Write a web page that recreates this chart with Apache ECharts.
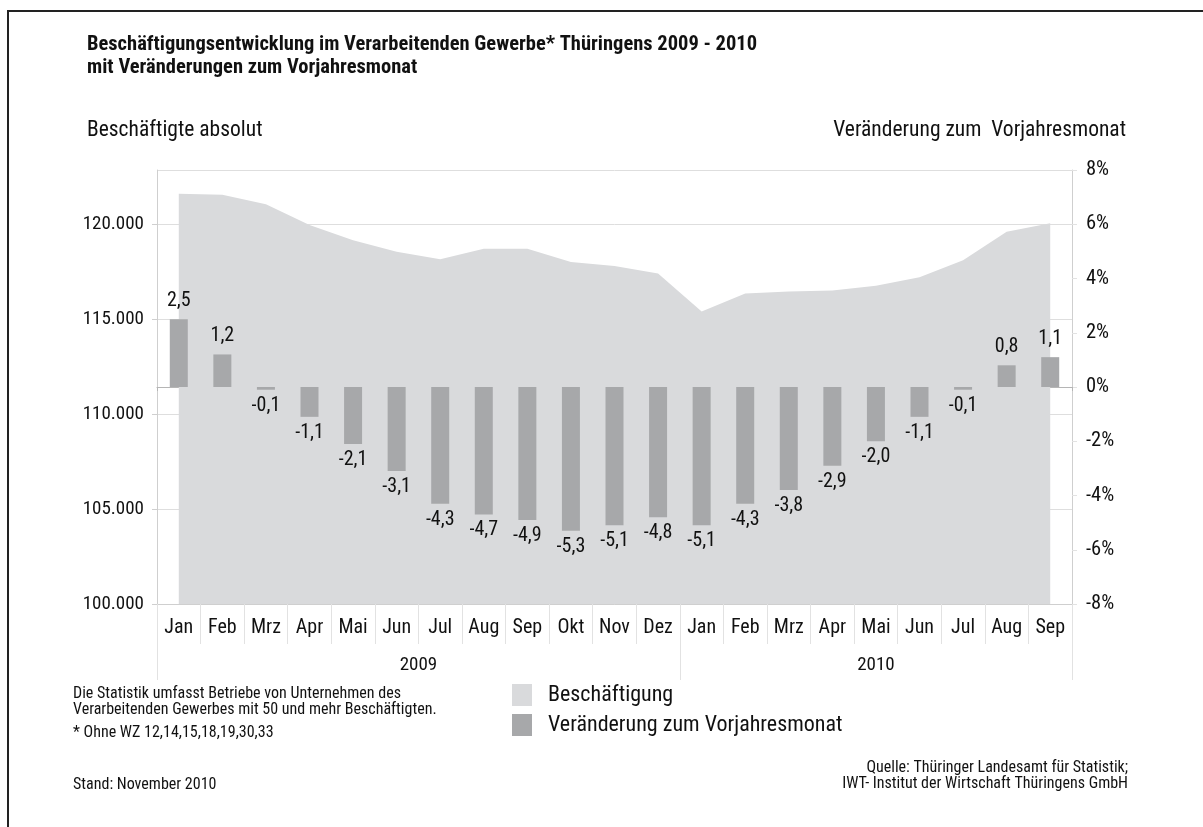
<!DOCTYPE html>
<html>
<head>
<meta charset="utf-8">
<script src="https://cdn.jsdelivr.net/npm/echarts@6/dist/echarts.min.js"></script>
<style>
  html, body { margin: 0; padding: 0; background: #fff; }
  #chart { width: 1203px; height: 827px; }
</style>
</head>
<body>
<div id="chart"></div>
<script>
(function () {
    'use strict';
    // Monate Jan 2009 - Sep 2010
    var months = ['Jan', 'Feb', 'Mrz', 'Apr', 'Mai', 'Jun', 'Jul', 'Aug', 'Sep', 'Okt', 'Nov', 'Dez',
                  'Jan', 'Feb', 'Mrz', 'Apr', 'Mai', 'Jun', 'Jul', 'Aug', 'Sep'];
    var years = ['2009', '2010'];
    // Beschäftigte absolut
    var beschaeftigte = [121600, 121550, 121050, 119950, 119150, 118550, 118150, 118700, 118700, 118000, 117800, 117400,
                         115400, 116350, 116450, 116500, 116750, 117200, 118100, 119600, 120050];
    // Veränderung zum Vorjahresmonat in %
    var veraenderung = [2.5, 1.2, -0.1, -1.1, -2.1, -3.1, -4.3, -4.7, -4.9, -5.3, -5.1, -4.8,
                        -5.1, -4.3, -3.8, -2.9, -2.0, -1.1, -0.1, 0.8, 1.1];

    var FONT = "'Roboto Condensed', 'Open Sans', sans-serif";
    var LIGHT = '#cfcfcf';
    var INK = '#111';

    function tausender(v) {
        return String(v).replace(/\B(?=(\d{3})+(?!\d))/g, '.');
    }
    function komma(v) {
        return v.toFixed(1).replace('.', ',');
    }
    function txt(size, extra) {
        var s = { fontFamily: FONT, fontSize: size, fontWeight: 'normal', color: INK };
        for (var k in extra) s[k] = extra[k];
        return s;
    }

    var barData = veraenderung.map(function (v) {
        return { value: v, label: { position: v < 0 ? 'bottom' : 'top', distance: v < 0 ? 6 : 8 } };
    });

    var chart = echarts.init(document.getElementById('chart'));
    var option = {
        backgroundColor: '#fff',
        animation: false,
        textStyle: { fontFamily: FONT },
        title: [
            {
                text: 'Beschäftigungsentwicklung im Verarbeitenden Gewerbe* Thüringens 2009 - 2010\nmit Veränderungen zum Vorjahresmonat',
                left: 82, top: 28,
                textStyle: txt(20.5, { fontWeight: 'bold', lineHeight: 23 })
            },
            { text: 'Beschäftigte absolut', left: 82, top: 115, textStyle: txt(21.5) },
            { text: 'Veränderung zum  Vorjahresmonat', right: 72, top: 115, textStyle: txt(21.5) },
            {
                text: 'Die Statistik umfasst Betriebe von Unternehmen des\nVerarbeitenden Gewerbes mit 50 und mehr Beschäftigten.',
                left: 68, top: 681, textStyle: txt(16, { lineHeight: 16 })
            },
            { text: '* Ohne WZ 12,14,15,18,19,30,33', left: 68, top: 720, textStyle: txt(16) },
            { text: 'Stand: November 2010', left: 68, top: 772, textStyle: txt(16) },
            { text: 'Quelle: Thüringer Landesamt für Statistik;', right: 70, top: 755, textStyle: txt(16) },
            { text: 'IWT- Institut der Wirtschaft Thüringens GmbH', right: 70, top: 771, textStyle: txt(16) }
        ],
        legend: {
            orient: 'vertical',
            left: 507, top: 679,
            itemWidth: 20, itemHeight: 22, itemGap: 8,
            textStyle: txt(22, { padding: [0, 0, 0, 11] }),
            data: [
                { name: 'Beschäftigung', icon: 'rect' },
                { name: 'Veränderung zum Vorjahresmonat', icon: 'rect' }
            ]
        },
        graphic: [{
            type: 'rect',
            shape: { x: 8, y: 11, width: 1400, height: 1000 },
            style: { fill: 'none', stroke: '#222', lineWidth: 2 },
            silent: true
        }],
        grid: { left: 157, right: 131, top: 170, bottom: 223, containLabel: false },
        xAxis: [
            {
                type: 'category', data: months, position: 'bottom',
                axisLine: { show: true, onZero: false, lineStyle: { color: LIGHT } },
                axisTick: { show: true, interval: 0, length: 40, lineStyle: { color: '#e2e2e2' } },
                axisLabel: { interval: 0, margin: 14, fontSize: 20, color: INK, fontFamily: FONT },
                splitLine: { show: false }
            },
            {
                type: 'category', data: months, position: 'bottom',
                axisLine: { show: true, onZero: true, onZeroAxisIndex: 1, lineStyle: { color: '#b5b5b5' } },
                axisTick: { show: true, interval: 0, length: 4, lineStyle: { color: '#b5b5b5' } },
                axisLabel: { show: false },
                splitLine: { show: false }
            },
            {
                type: 'value', min: -0.5, max: 20.5, position: 'bottom',
                axisLine: { show: false, onZero: false },
                axisTick: { show: true, length: 76, customValues: [-0.5, 11.5, 20.5], lineStyle: { color: '#e2e2e2' } },
                axisLabel: {
                    customValues: [5.5, 16], margin: 52, fontSize: 19, color: INK, fontFamily: FONT,
                    formatter: function (v) { return v < 11.5 ? years[0] : years[1]; }
                },
                splitLine: { show: false }
            }
        ],
        yAxis: [
            {
                type: 'value', position: 'left',
                min: 100000, max: 122850, interval: 5000,
                axisLine: { show: true, onZero: false, lineStyle: { color: LIGHT } },
                axisTick: { show: true, length: 5, lineStyle: { color: LIGHT } },
                axisLabel: {
                    margin: 13, fontSize: 19, color: INK, fontFamily: FONT, showMaxLabel: false,
                    formatter: function (v) { return tausender(v); }
                },
                splitLine: { show: true, lineStyle: { color: '#dedede' } }
            },
            {
                type: 'value', position: 'right',
                min: -8, max: 8, interval: 2,
                axisLine: { show: true, onZero: false, lineStyle: { color: LIGHT } },
                axisTick: { show: true, length: 5, lineStyle: { color: '#e2e2e2' } },
                axisLabel: {
                    margin: 14, fontSize: 20.5, color: INK, fontFamily: FONT,
                    formatter: function (v) { return v + '%'; }
                },
                splitLine: { show: false }
            }
        ],
        series: [
            {
                name: 'Beschäftigung', type: 'line', xAxisIndex: 0, yAxisIndex: 0,
                data: beschaeftigte,
                symbol: 'none', smooth: false,
                lineStyle: { width: 0 },
                itemStyle: { color: '#d9dadc' },
                areaStyle: { color: '#d9dadc', opacity: 1, origin: 'start' },
                z: 1
            },
            {
                name: 'Veränderung zum Vorjahresmonat', type: 'bar', xAxisIndex: 0, yAxisIndex: 1,
                data: barData,
                barWidth: 18,
                itemStyle: { color: '#a7a8aa' },
                label: {
                    show: true, fontSize: 20, color: INK, fontFamily: FONT,
                    formatter: function (p) { return komma(p.value); }
                },
                z: 3
            }
        ]
    };
    chart.setOption(option);
})();
</script>
</body>
</html>
